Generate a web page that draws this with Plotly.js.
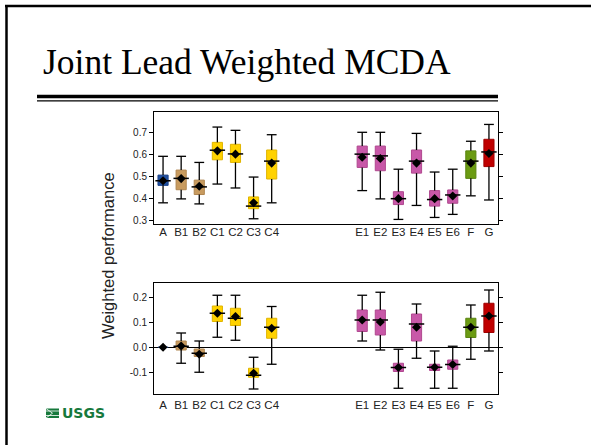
<!DOCTYPE html>
<html>
<head>
<meta charset="utf-8">
<script src="https://cdn.plot.ly/plotly-3.0.1.min.js"></script>
<style>
html,body{margin:0;padding:0;background:#fff;}
#chart{width:591px;height:445px;}
</style>
</head>
<body>
<div id="chart"></div>
<script>
// ---- data ----
var categories = ['A','B1','B2','C1','C2','C3','C4','E1','E2','E3','E4','E5','E6','F','G'];
var boxColors = ['#2050a0','#c89b5f','#c89b5f','#ffd200','#ffd200','#ffd200','#ffd200',
                 '#c858a8','#c858a8','#c858a8','#c858a8','#c858a8','#c858a8','#6b9b12','#c00000'];
var edgeColors = ['#1a4088','#b08650','#b08650','#e0b400','#e0b400','#e0b400','#e0b400',
                  '#b0488f','#b0488f','#b0488f','#b0488f','#b0488f','#b0488f','#5a8510','#a00000'];

// top panel: weighted performance
var topLow  = [0.379,0.397,0.374,0.465,0.447,0.306,0.379, 0.435,0.397,0.303,0.367,0.312,0.326,0.411,0.392];
var topQ1   = [0.459,0.439,0.417,0.576,0.564,0.352,0.488, 0.541,0.526,0.371,0.515,0.364,0.377,0.491,0.545];
var topMed  = [0.480,0.491,0.452,0.620,0.603,0.364,0.570, 0.602,0.594,0.398,0.570,0.394,0.415,0.570,0.612];
var topQ3   = [0.506,0.529,0.483,0.656,0.647,0.406,0.621, 0.639,0.639,0.430,0.621,0.435,0.438,0.617,0.670];
var topHigh = [0.592,0.592,0.564,0.726,0.711,0.497,0.691, 0.702,0.702,0.533,0.697,0.520,0.533,0.661,0.738];
var topMean = [0.480,0.490,0.455,0.617,0.602,0.379,0.561, 0.588,0.582,0.398,0.561,0.398,0.410,0.561,0.605];

// bottom panel: difference relative to A
var botLow  = [0,-0.064,-0.100,0.040,0.028,-0.167,-0.068, 0.025,-0.011,-0.164,-0.044,-0.164,-0.164,-0.048,-0.015];
var botQ1   = [0,-0.011,-0.037,0.103,0.087,-0.120,0.036, 0.063,0.049,-0.097,0.025,-0.093,-0.088,0.039,0.059];
var botMed  = [0,0.004,-0.024,0.136,0.116,-0.112,0.080, 0.109,0.109,-0.081,0.093,-0.080,-0.069,0.080,0.125];
var botQ3   = [0,0.025,-0.007,0.165,0.156,-0.084,0.116, 0.149,0.149,-0.064,0.133,-0.068,-0.051,0.116,0.176];
var botHigh = [0,0.057,0.025,0.208,0.208,-0.040,0.163, 0.208,0.220,-0.008,0.173,-0.015,0.004,0.169,0.229];
var botMean = [0,0.005,-0.028,0.136,0.123,-0.104,0.076, 0.109,0.101,-0.081,0.080,-0.080,-0.069,0.080,0.125];

var topTicks = [0.3,0.4,0.5,0.6,0.7];
var botTicks = [-0.1,0.0,0.1,0.2];

// ---- layout helpers ----
var W = 591, H = 445;
var ML = 154, MR = 93, MT = 112, MB = 51;
var PW = W - ML - MR, PH = H - MT - MB;
function px(x){ return (x - ML) / PW; }
function py(y){ return (H - MB - y) / PH; }

// slot positions: right group shifted by empty slots
var GAP = 4;
var xpos = categories.map(function(c,i){ return i < 7 ? i : i + GAP; });

function panel(low,q1,med,q3,high,mean,xa,ya){
  var tr = [];
  tr.push({type:'bar', x:xpos, base:q1, y:q3.map(function(v,i){return v-q1[i];}),
    width:0.56, marker:{color:boxColors, line:{color:edgeColors, width:1}},
    xaxis:xa, yaxis:ya, hoverinfo:'skip', showlegend:false});
  var wx=[], wy=[];
  xpos.forEach(function(p,i){
    if (high[i] === low[i]) return;
    wx.push(p,p,null,p,p,null);
    wy.push(low[i],q1[i],null,q3[i],high[i],null);
  });
  tr.push({type:'scatter', mode:'lines', x:wx, y:wy, line:{color:'#000', width:1.3},
    xaxis:xa, yaxis:ya, hoverinfo:'skip', showlegend:false, connectgaps:false});
  var cx=[], cy=[];
  xpos.forEach(function(p,i){
    if (high[i] === low[i]) return;
    cx.push(p,p); cy.push(low[i],high[i]);
  });
  tr.push({type:'scatter', mode:'markers', x:cx, y:cy,
    marker:{symbol:'line-ew', size:7, line:{color:'#000', width:1.3}},
    xaxis:xa, yaxis:ya, hoverinfo:'skip', showlegend:false});
  var mx=[], my=[];
  xpos.forEach(function(p,i){ if (q3[i] !== q1[i]) { mx.push(p); my.push(med[i]); } });
  tr.push({type:'scatter', mode:'markers', x:mx, y:my,
    marker:{symbol:'line-ew', size:11, line:{color:'#000', width:1.5}},
    xaxis:xa, yaxis:ya, hoverinfo:'skip', showlegend:false});
  tr.push({type:'scatter', mode:'markers', x:xpos, y:mean,
    marker:{symbol:'diamond', size:7, color:'#000'},
    xaxis:xa, yaxis:ya, hoverinfo:'skip', showlegend:false});
  return tr;
}

var data = panel(topLow,topQ1,topMed,topQ3,topHigh,topMean,'x','y')
   .concat(panel(botLow,botQ1,botMed,botQ3,botHigh,botMean,'x2','y2'));

function fmt(v){ return v.toFixed(1); }

var tickFont = {family:'Liberation Sans, Arial, sans-serif', size:10, color:'#222'};
var xFont = {family:'Liberation Sans, Arial, sans-serif', size:11.5, color:'#222'};

var xaxisBase = {range:[-0.5,18.5], tickvals:xpos, ticktext:categories, ticks:'',
  showline:true, linecolor:'#000', linewidth:1, mirror:true, showgrid:false, zeroline:false,
  tickfont:xFont, fixedrange:true};

var layout = {
  width:W, height:H, paper_bgcolor:'#fff', plot_bgcolor:'#fff',
  margin:{l:ML, r:MR, t:MT, b:MB, pad:0},
  barmode:'overlay', showlegend:false,
  xaxis: Object.assign({}, xaxisBase, {anchor:'y', ticklabelstandoff:-3}),
  xaxis2: Object.assign({}, xaxisBase, {anchor:'y2'}),
  yaxis: {domain:[py(224),1], range:[0.282,0.795], tickvals:topTicks, ticktext:topTicks.map(fmt),
    ticks:'outside', ticklen:4, tickcolor:'#000', showline:true, linecolor:'#000', linewidth:1,
    mirror:'ticks', showgrid:false, zeroline:false, tickfont:tickFont, anchor:'x', fixedrange:true},
  yaxis2: {domain:[0,py(283)], range:[-0.187,0.257], tickvals:botTicks, ticktext:botTicks.map(fmt),
    ticks:'outside', ticklen:4, tickcolor:'#000', showline:true, linecolor:'#000', linewidth:1,
    mirror:'ticks', showgrid:false, zeroline:true, zerolinecolor:'#000', zerolinewidth:1.3,
    tickfont:tickFont, anchor:'x2', fixedrange:true},
  annotations:[
    {text:'Joint Lead Weighted MCDA', xref:'paper', yref:'paper', x:px(41), y:py(62),
     xanchor:'left', yanchor:'middle', showarrow:false,
     font:{family:'Liberation Serif, Times New Roman, serif', size:35.5, color:'#000'}},
    {text:'Weighted performance', xref:'paper', yref:'paper', x:px(108), y:py(256),
     xanchor:'center', yanchor:'middle', textangle:-90, showarrow:false,
     font:{family:'Liberation Sans, Arial, sans-serif', size:16.5, color:'#222'}},
    {text:'<b>USGS</b>', xref:'paper', yref:'paper', x:px(59.5), y:py(413),
     xanchor:'left', yanchor:'middle', showarrow:false,
     font:{family:'DejaVu Sans, sans-serif', size:14, color:'#17793c'}}
  ],
  shapes:[
    // slide border
    {type:'line', xref:'paper', yref:'paper', x0:px(6.5), x1:px(6.5), y0:py(5), y1:py(445), line:{color:'#000', width:2.5}},
    {type:'line', xref:'paper', yref:'paper', x0:px(5), x1:px(591), y0:py(6), y1:py(6), line:{color:'#000', width:2.5}},
    // double rule under title
    {type:'line', xref:'paper', yref:'paper', x0:px(37), x1:px(498), y0:py(96.5), y1:py(96.5), line:{color:'#000', width:3.5}},
    {type:'line', xref:'paper', yref:'paper', x0:px(37), x1:px(498), y0:py(100.8), y1:py(100.8), line:{color:'#000', width:1.2}},
    // USGS emblem
    {type:'rect', xref:'paper', yref:'paper', x0:px(46), x1:px(59), y0:py(408.5), y1:py(418), line:{width:0}, fillcolor:'#17793c'},
    {type:'line', xref:'paper', yref:'paper', x0:px(46), x1:px(59), y0:py(411), y1:py(411), line:{color:'#fff', width:0.8}},
    {type:'line', xref:'paper', yref:'paper', x0:px(46), x1:px(59), y0:py(415.5), y1:py(415.5), line:{color:'#fff', width:0.8}},
    {type:'line', xref:'paper', yref:'paper', x0:px(46), x1:px(52.5), y0:py(408.5), y1:py(413.2), line:{color:'#fff', width:0.8}},
    {type:'line', xref:'paper', yref:'paper', x0:px(46), x1:px(52.5), y0:py(418), y1:py(413.2), line:{color:'#fff', width:0.8}}
  ]
};

Plotly.newPlot('chart', data, layout, {staticPlot:true, displayModeBar:false});
</script>
</body>
</html>
